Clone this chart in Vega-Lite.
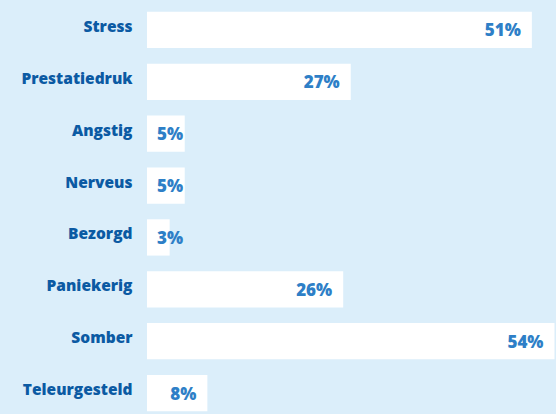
{
  "$schema": "https://vega.github.io/schema/vega-lite/v6.json",
  "width": 409,
  "height": 415,
  "autosize": "none",
  "padding": {"left": 147, "top": 4, "right": 0, "bottom": 0},
  "background": "#dbeefa",
  "config": {"view": {"stroke": null}},
  "data": {"values": [
    {"emotie": "Stress", "pct": 0.51},
    {"emotie": "Prestatiedruk", "pct": 0.27},
    {"emotie": "Angstig", "pct": 0.05},
    {"emotie": "Nerveus", "pct": 0.05},
    {"emotie": "Bezorgd", "pct": 0.03},
    {"emotie": "Paniekerig", "pct": 0.26},
    {"emotie": "Somber", "pct": 0.54},
    {"emotie": "Teleurgesteld", "pct": 0.08}
  ]},
  "encoding": {
    "y": {"field": "emotie", "type": "nominal", "sort": null,
      "scale": {"paddingInner": 0.3, "paddingOuter": 0.15},
      "axis": {"title": null, "domain": false, "ticks": false, "labelPadding": 15, "labelOffset": -3,
        "labelFont": "Open Sans", "labelFontWeight": 800, "labelFontSize": 15.5, "labelColor": "#0b5aa3"}}
  },
  "layer": [
    {"mark": {"type": "bar", "color": "#ffffff"},
     "encoding": {"x": {"field": "pct", "type": "quantitative", "scale": {"domain": [0, 0.542], "nice": false}, "axis": null}}},
    {"transform": [{"filter": "datum.pct >= 0.08"}],
     "mark": {"type": "text", "align": "right", "baseline": "middle", "dx": -11, "dy": 1.5, "font": "Open Sans", "fontWeight": 800, "fontSize": 17, "color": "#2e7fc7"},
     "encoding": {"x": {"field": "pct", "type": "quantitative"}, "text": {"field": "pct", "type": "quantitative", "format": ".0%"}}},
    {"transform": [{"filter": "datum.pct < 0.08"}],
     "mark": {"type": "text", "align": "left", "baseline": "middle", "dx": 10, "dy": 1.5, "font": "Open Sans", "fontWeight": 800, "fontSize": 17, "color": "#2e7fc7"},
     "encoding": {"x": {"datum": 0, "type": "quantitative"}, "text": {"field": "pct", "type": "quantitative", "format": ".0%"}}}
  ]
}
